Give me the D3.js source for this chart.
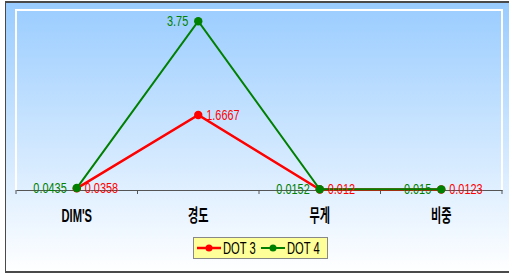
<!DOCTYPE html>
<html>
<head>
<meta charset="utf-8">
<script src="https://cdn.jsdelivr.net/npm/d3@7"></script>
<style>
body { margin: 0; background: #ffffff; }
svg { display: block; }
</style>
</head>
<body>
<div class="canvas"></div>
<script>
var categories = ["DIM'S", "경도", "무게", "비중"];
var dot3 = [0.0358, 1.6667, 0.012, 0.0123];
var dot4 = [0.0435, 3.75, 0.0152, 0.015];
var dot3_labels = ["0.0358", "1.6667", "0.012", "0.0123"];
var dot4_labels = ["0.0435", "3.75", "0.0152", "0.015"];
var series_names = ["DOT 3", "DOT 4"];
var series_colors = ["#ff0000", "#008000"];

var fig_width = 509;
var fig_height = 276;
var plot = {left: 16, right: 502, top: 10, bottom: 190};
var sans = "'Liberation Sans', Arial, 'Noto Sans CJK KR', sans-serif";

var svg = d3.select("body div.canvas").append("svg")
	.attr("width", fig_width)
	.attr("height", fig_height);

var defs = svg.append("defs");
var grad = defs.append("linearGradient")
	.attr("id", "bg")
	.attr("x1", 0).attr("y1", 0).attr("x2", 0).attr("y2", 1);
grad.append("stop").attr("offset", "0%").attr("stop-color", "#99ccff");
grad.append("stop").attr("offset", "100%").attr("stop-color", "#ffffff");

// chart background + frame
svg.append("rect")
	.attr("x", 5).attr("y", 2)
	.attr("width", fig_width - 5).attr("height", 270)
	.attr("fill", "url(#bg)");
svg.append("line").attr("x1", 5).attr("x2", fig_width).attr("y1", 2).attr("y2", 2)
	.attr("stroke", "#4a4a4a").attr("stroke-width", 2);
svg.append("line").attr("x1", 5).attr("x2", fig_width).attr("y1", 272).attr("y2", 272)
	.attr("stroke", "#4a4a4a").attr("stroke-width", 2);
svg.append("line").attr("x1", 5.5).attr("x2", 5.5).attr("y1", 2).attr("y2", 272)
	.attr("stroke", "#4a4a4a").attr("stroke-width", 1);

// plot area white border
svg.append("path")
	.attr("d", "M" + plot.left + "," + plot.bottom + "V" + plot.top + "H" + plot.right + "V" + plot.bottom)
	.attr("fill", "none")
	.attr("stroke", "#ffffff")
	.attr("stroke-width", 2);

var x = d3.scaleBand().domain(categories).range([plot.left, plot.right]);
var y = d3.scaleLinear().domain([0, 4]).range([plot.bottom, plot.top]);
function cx(i) { return x(categories[i]) + x.bandwidth() / 2; }

// category axis
var xAxis = d3.axisBottom(x).tickSize(0).tickFormat("");
svg.append("g")
	.attr("transform", "translate(0," + plot.bottom + ")")
	.call(xAxis)
	.call(function(g) { g.select(".domain").attr("stroke", "#555555").attr("stroke-width", 1.2); });
// tick marks between categories
var edges = categories.map(function(c) { return x(c); }).concat([plot.right]);
svg.append("g").selectAll("line").data(edges).enter().append("line")
	.attr("x1", function(d) { return d; })
	.attr("x2", function(d) { return d; })
	.attr("y1", plot.bottom)
	.attr("y2", plot.bottom + 4)
	.attr("stroke", "#555555");

// narrow text: squeeze horizontally
svg.append("g").selectAll("text").data(categories).enter().append("text")
	.attr("transform", function(d, i) { return "translate(" + cx(i) + ",221.5) scale(0.62,1)"; })
	.attr("text-anchor", "middle")
	.style("font-family", sans)
	.style("font-weight", "bold")
	.style("font-size", "18px")
	.style("fill", "#000000")
	.text(function(d) { return d; });

var line = d3.line()
	.x(function(d, i) { return cx(i); })
	.y(function(d) { return y(d); });

var all_series = [dot3, dot4];
var all_labels = [dot3_labels, dot4_labels];

all_series.forEach(function(s, k) {
	svg.append("path")
		.datum(s)
		.attr("d", line)
		.attr("fill", "none")
		.attr("stroke", series_colors[k])
		.attr("stroke-width", k == 0 ? 2.5 : 2);
	svg.append("g").selectAll("circle").data(s).enter().append("circle")
		.attr("cx", function(d, i) { return cx(i); })
		.attr("cy", function(d) { return y(d); })
		.attr("r", 4.2)
		.attr("fill", series_colors[k]);
});

// data labels: DOT 4 left, DOT 3 right
all_series.forEach(function(s, k) {
	svg.append("g").selectAll("text").data(s).enter().append("text")
		.attr("transform", function(d, i) {
			return "translate(" + (cx(i) + (k == 0 ? 8 : -10)) + "," + (y(d) + 5) + ") scale(0.78,1)";
		})
		.attr("text-anchor", k == 0 ? "start" : "end")
		.style("font-family", sans)
		.style("font-size", "14px")
		.style("fill", series_colors[k])
		.text(function(d, i) { return all_labels[k][i]; });
});

// legend
var legend = svg.append("g").attr("transform", "translate(193,237)");
legend.append("rect")
	.attr("x", 0.5).attr("y", 0.5)
	.attr("width", 134).attr("height", 21)
	.attr("fill", "#ffff99")
	.attr("stroke", "#888888");
series_names.forEach(function(name, k) {
	var lx = 4 + k * 64;
	legend.append("line")
		.attr("x1", lx).attr("x2", lx + 24)
		.attr("y1", 11).attr("y2", 11)
		.attr("stroke", series_colors[k])
		.attr("stroke-width", k == 0 ? 2.5 : 2);
	legend.append("circle")
		.attr("cx", lx + 12).attr("cy", 11).attr("r", 3.5)
		.attr("fill", series_colors[k]);
	legend.append("text")
		.attr("transform", "translate(" + (lx + 26) + ",17) scale(0.7,1)")
		.style("font-family", sans)
		.style("font-size", "16px")
		.style("fill", "#000000")
		.text(name);
});
</script>
</body>
</html>
